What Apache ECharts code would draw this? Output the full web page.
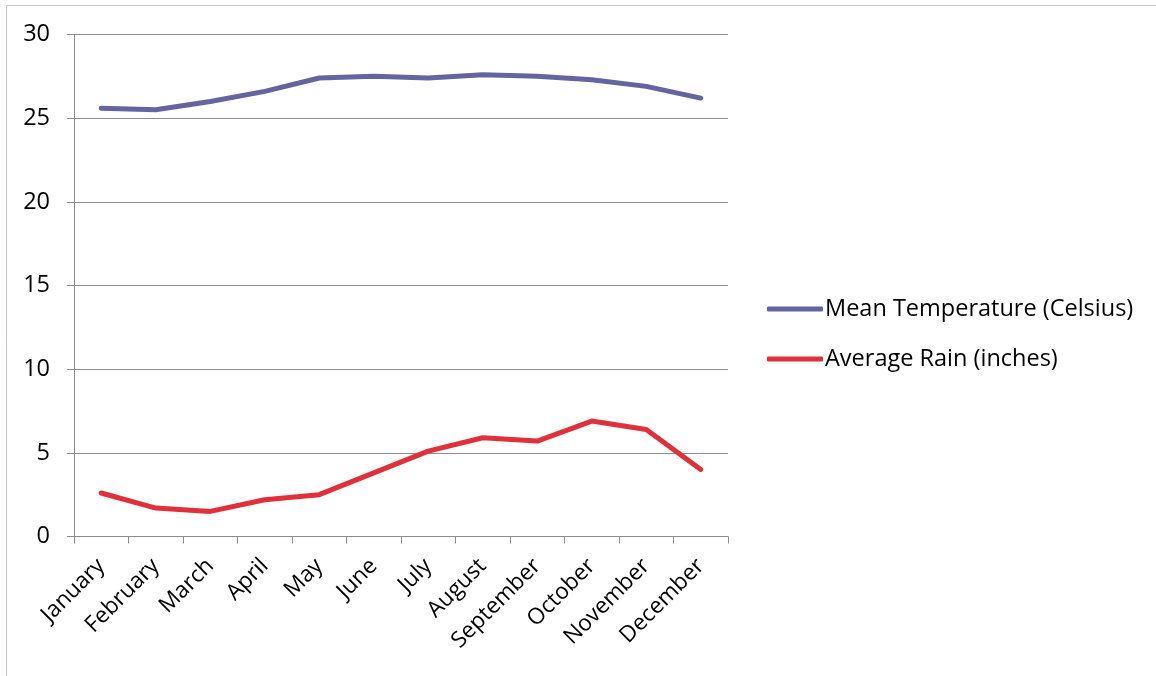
<!DOCTYPE html>
<html>
<head>
<meta charset="utf-8">
<script src="https://cdn.jsdelivr.net/npm/echarts@6/dist/echarts.min.js"></script>
<style>
  html, body { margin: 0; padding: 0; background: #ffffff; }
  #chart { width: 1156px; height: 676px; }
</style>
</head>
<body>
<div id="chart"></div>
<script>
// Monthly climate figures
const months = ['January', 'February', 'March', 'April', 'May', 'June',
  'July', 'August', 'September', 'October', 'November', 'December'];
const meanTemperature = [25.6, 25.5, 26.0, 26.6, 27.4, 27.5, 27.4, 27.6, 27.5, 27.3, 26.9, 26.2];
const averageRain = [2.6, 1.7, 1.5, 2.2, 2.5, 3.8, 5.1, 5.9, 5.7, 6.9, 6.4, 4.0];
const yTicks = [0, 5, 10, 15, 20, 25, 30];

const FONT = 'Open Sans';
const GRID_GRAY = '#8c8c8c';

const chart = echarts.init(document.getElementById('chart'), null, { renderer: 'canvas' });

chart.setOption({
  backgroundColor: '#ffffff',
  animation: false,
  textStyle: { fontFamily: FONT, color: '#000000' },
  graphic: [
    {
      type: 'polyline',
      shape: { points: [[6.5, 676], [6.5, 5.5], [1156, 5.5]] },
      style: { stroke: '#c8c8c8', lineWidth: 1, fill: null },
      silent: true
    }
  ],
  grid: { left: 74, right: 428, top: 34.5, bottom: 139.5, containLabel: false },
  legend: {
    orient: 'vertical',
    left: 767,
    top: 293,
    padding: 0,
    itemWidth: 56,
    itemHeight: 5,
    itemGap: 18,
    icon: 'roundRect',
    textStyle: { fontFamily: FONT, fontSize: 23.5, lineHeight: 32, color: '#000000', padding: [0, 0, 0, -3] },
    data: ['Mean Temperature (Celsius)', 'Average Rain (inches)']
  },
  xAxis: {
    type: 'category',
    data: months,
    boundaryGap: true,
    axisLine: { lineStyle: { color: GRID_GRAY, width: 1 } },
    axisTick: { show: true, length: 7, lineStyle: { color: GRID_GRAY } },
    axisLabel: {
      rotate: 45,
      interval: 0,
      margin: 26,
      fontFamily: FONT,
      fontSize: 22.5,
      color: '#000000'
    },
    splitLine: { show: false }
  },
  yAxis: {
    type: 'value',
    min: yTicks[0],
    max: yTicks[yTicks.length - 1],
    interval: 5,
    axisLine: { show: true, lineStyle: { color: GRID_GRAY, width: 1 } },
    axisTick: { show: true, length: 7, lineStyle: { color: GRID_GRAY } },
    axisLabel: {
      margin: 24,
      fontFamily: FONT,
      fontSize: 23.5,
      color: '#000000',
      formatter: v => (yTicks.includes(v) ? String(v) : '')
    },
    splitLine: { show: true, lineStyle: { color: GRID_GRAY, width: 1 } }
  },
  series: [
    {
      name: 'Mean Temperature (Celsius)',
      type: 'line',
      data: meanTemperature,
      showSymbol: false,
      symbol: 'none',
      smooth: false,
      color: '#6464a0',
      lineStyle: { color: '#6464a0', width: 5, cap: 'round', join: 'round' }
    },
    {
      name: 'Average Rain (inches)',
      type: 'line',
      data: averageRain,
      showSymbol: false,
      symbol: 'none',
      smooth: false,
      color: '#e0303a',
      lineStyle: { color: '#e0303a', width: 5, cap: 'round', join: 'round' }
    }
  ]
});
</script>
</body>
</html>
